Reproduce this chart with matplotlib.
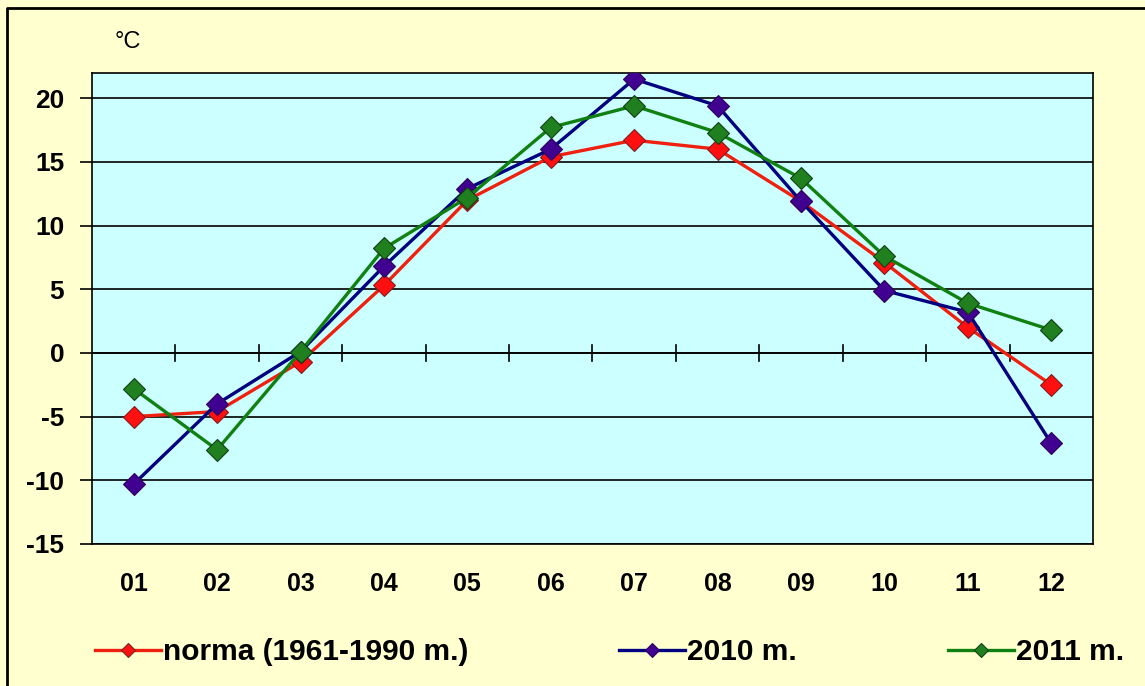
import matplotlib.pyplot as plt
from matplotlib.lines import Line2D

months = ['01', '02', '03', '04', '05', '06', '07', '08', '09', '10', '11', '12']
norma = [-5.0, -4.6, -0.7, 5.3, 12.0, 15.4, 16.7, 16.0, 11.9, 7.1, 2.0, -2.5]
y2010 = [-10.3, -4.0, 0.1, 6.8, 12.9, 16.0, 21.5, 19.4, 11.9, 4.9, 3.2, -7.1]
y2011 = [-2.8, -7.6, 0.1, 8.2, 12.2, 17.7, 19.4, 17.3, 13.7, 7.6, 3.9, 1.8]
labels = ['norma (1961-1990 m.)', '2010 m.', '2011 m.']

plt.rcParams['axes.unicode_minus'] = False
fnt = ['Liberation Sans', 'DejaVu Sans']

fig = plt.figure(figsize=(11.45, 6.86), dpi=100)
fig.patch.set_facecolor('#FFFFD0')
# border only visible on left and top (image is cropped at right/bottom)
fig.lines.append(Line2D([7 / 1145, 7 / 1145, 1], [0, 1 - 8 / 686, 1 - 8 / 686],
                        transform=fig.transFigure, color='black', lw=2))

ax = fig.add_axes([0.0803, 0.207, 0.8743, 0.687])
ax.set_facecolor('#CCFFFF')
x = list(range(len(months)))

ax.plot(x, norma, color='#F02010', lw=2.4, marker='D', ms=11.5,
        mfc='#FF1010', mec='#802020', mew=0.8, label=labels[0], zorder=3)
ax.plot(x, y2010, color='#000080', lw=2.4, marker='D', ms=11.5,
        mfc='#400090', mec='#300060', mew=0.8, label=labels[1], zorder=4)
ax.plot(x, y2011, color='#108010', lw=2.4, marker='D', ms=11.5,
        mfc='#208020', mec='#104010', mew=0.8, label=labels[2], zorder=5)

ax.set_xlim(-0.5, 11.5)
ax.set_ylim(-15, 22)
ax.set_yticks(range(-15, 21, 5))
ax.grid(axis='y', color='black', lw=1.2)
ax.set_axisbelow(True)
ax.axhline(0, color='black', lw=1.2, zorder=1)
for b in range(11):
    ax.plot([b + 0.5, b + 0.5], [-0.6, 0.6], color='black', lw=1.2, zorder=1)

ax.set_xticks(x)
ax.set_xticklabels(months)
ax.tick_params(axis='x', length=0, pad=20)
ax.tick_params(axis='y', length=9, width=1.2, direction='out', pad=11)
for lab in ax.get_xticklabels():
    lab.set_family(fnt)
    lab.set_fontweight('bold')
    lab.set_fontsize(18)
for lab in ax.get_yticklabels():
    lab.set_family(fnt)
    lab.set_fontweight('bold')
    lab.set_fontsize(19)
for s in ax.spines.values():
    s.set_linewidth(1.2)

fig.text(128 / 1145, 1 - 42 / 686, '°C', fontsize=17, family=fnt,
         ha='center', va='center')

fig.legend(loc='center left', bbox_to_anchor=(95 / 1145, 1 - 652 / 686), ncol=3,
           frameon=False, prop={'family': fnt, 'weight': 'bold', 'size': 21.5},
           handlelength=2.2, handletextpad=0.08, columnspacing=5.05,
           borderaxespad=0, borderpad=0, markerscale=0.6)

fig.savefig('out.png', dpi=100, facecolor=fig.get_facecolor())
